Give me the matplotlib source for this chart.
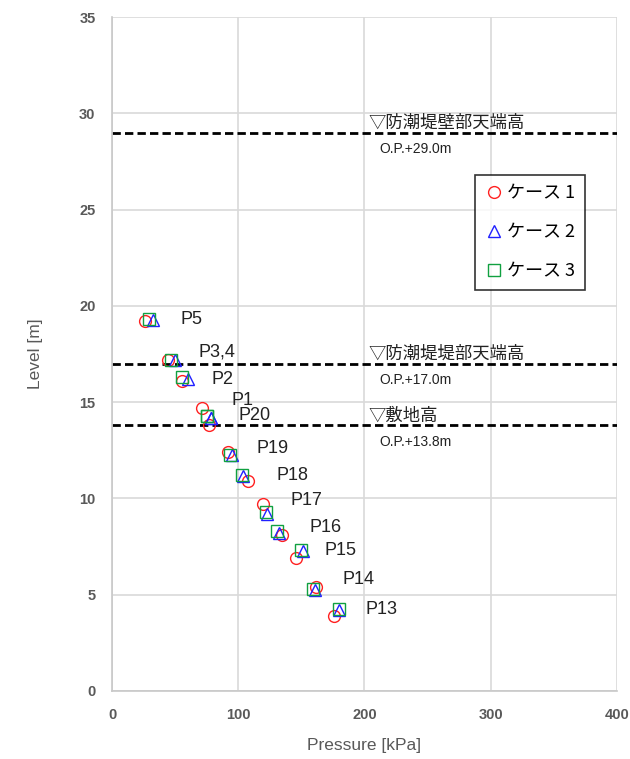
import matplotlib
matplotlib.use("Agg")
import matplotlib.pyplot as plt

plt.rcParams["font.family"] = ["Noto Sans CJK JP", "DejaVu Sans"]
latin = ["Liberation Sans", "DejaVu Sans"]

# points: P5, P3,4, P2, P1, P20, P19, P18, P17, P16, P15, P14, P13
point_names = ["P5", "P3,4", "P2", "P1", "P20", "P19", "P18", "P17", "P16", "P15", "P14", "P13"]
case1_x = [26, 44.5, 55, 71, 76.5, 91.5, 108, 119.5, 134.5, 145.5, 161.5, 176]
case1_y = [19.2, 17.2, 16.1, 14.7, 13.8, 12.4, 10.9, 9.7, 8.1, 6.9, 5.4, 3.9]
case2_x = [32.5, 50, 60.5, 78, 78, 95, 104, 122.5, 132, 151, 160.5, 180]
case2_y = [19.25, 17.2, 16.2, 14.2, 14.2, 12.25, 11.15, 9.2, 8.2, 7.25, 5.25, 4.2]
case3_x = [29, 46.5, 55.5, 75.5, 75.5, 93.5, 103, 122, 131, 150, 159.5, 179.5]
case3_y = [19.3, 17.2, 16.3, 14.3, 14.3, 12.25, 11.2, 9.3, 8.3, 7.3, 5.3, 4.25]
label_x = [54, 68.5, 79, 95, 100, 114.5, 130, 141.5, 156.5, 168, 182.5, 201]
label_y = [19.3, 17.6, 16.2, 15.1, 14.3, 12.6, 11.2, 9.9, 8.5, 7.3, 5.8, 4.25]

ref_levels = [29.0, 17.0, 13.8]
ref_names = ["▽防潮堤壁部天端高", "▽防潮堤堤部天端高", "▽敷地高"]
ref_notes = ["O.P.+29.0m", "O.P.+17.0m", "O.P.+13.8m"]

gray = "#595959"

fig = plt.figure(figsize=(6.3, 7.59), dpi=100)
ax = fig.add_axes([0.178, 0.0896, 0.801, 0.888])

for lv, name, note in zip(ref_levels, ref_names, ref_notes):
    ax.plot([0, 400], [lv, lv], color="black", lw=2, ls=(0, (3, 1.5)), zorder=2)
    ax.text(203, lv + 0.05, name, fontsize=12.5, va="bottom", ha="left", color="#222222")
    ax.text(212, lv - 0.5, note, fontsize=10, va="top", ha="left", color="#222222",
            family=latin)

mk = dict(ls="none", ms=8.5, mfc="none", mew=1.0, zorder=3)
ax.plot(case1_x, case1_y, marker="o", mec="#ff2020", label="ケース 1", **mk)
ax.plot(case2_x, case2_y, marker="^", mec="#2020ff", label="ケース 2", **mk)
ax.plot(case3_x, case3_y, marker="s", mec="#10a040", label="ケース 3", **mk)

for name, lx, ly in zip(point_names, label_x, label_y):
    ax.text(lx, ly, name, fontsize=13, va="center", ha="left", color="#222222",
            family=latin)

ax.set_xlim(0, 400)
ax.set_ylim(0, 35)
ax.set_xticks(range(0, 401, 100))
ax.set_yticks(range(0, 36, 5))
ax.grid(True, color="#d9d9d9", lw=1.2, zorder=0)
ax.set_axisbelow(True)
for side in ["top", "right"]:
    ax.spines[side].set_visible(False)
for side in ["left", "bottom"]:
    ax.spines[side].set_color("#c8c8c8")
    ax.spines[side].set_linewidth(1.2)
ax.tick_params(length=0, labelcolor=gray, labelsize=10.5, pad=12)
for lab in ax.get_xticklabels() + ax.get_yticklabels():
    lab.set_fontweight("bold")
    lab.set_family(latin)
ax.set_xlabel("Pressure [kPa]", color=gray, fontsize=12.5, labelpad=12, family=latin)
ax.set_ylabel("Level [m]", color=gray, fontsize=12.5, labelpad=26, family=latin)

leg = ax.legend(loc="upper left", bbox_to_anchor=(0.72, 0.766), fontsize=13,
                frameon=True, fancybox=False, edgecolor="black",
                labelspacing=1.15, handletextpad=0.2, handlelength=1.0,
                borderpad=0.55, borderaxespad=0)
leg.get_frame().set_linewidth(1.2)

fig.savefig("out.png", dpi=100)
